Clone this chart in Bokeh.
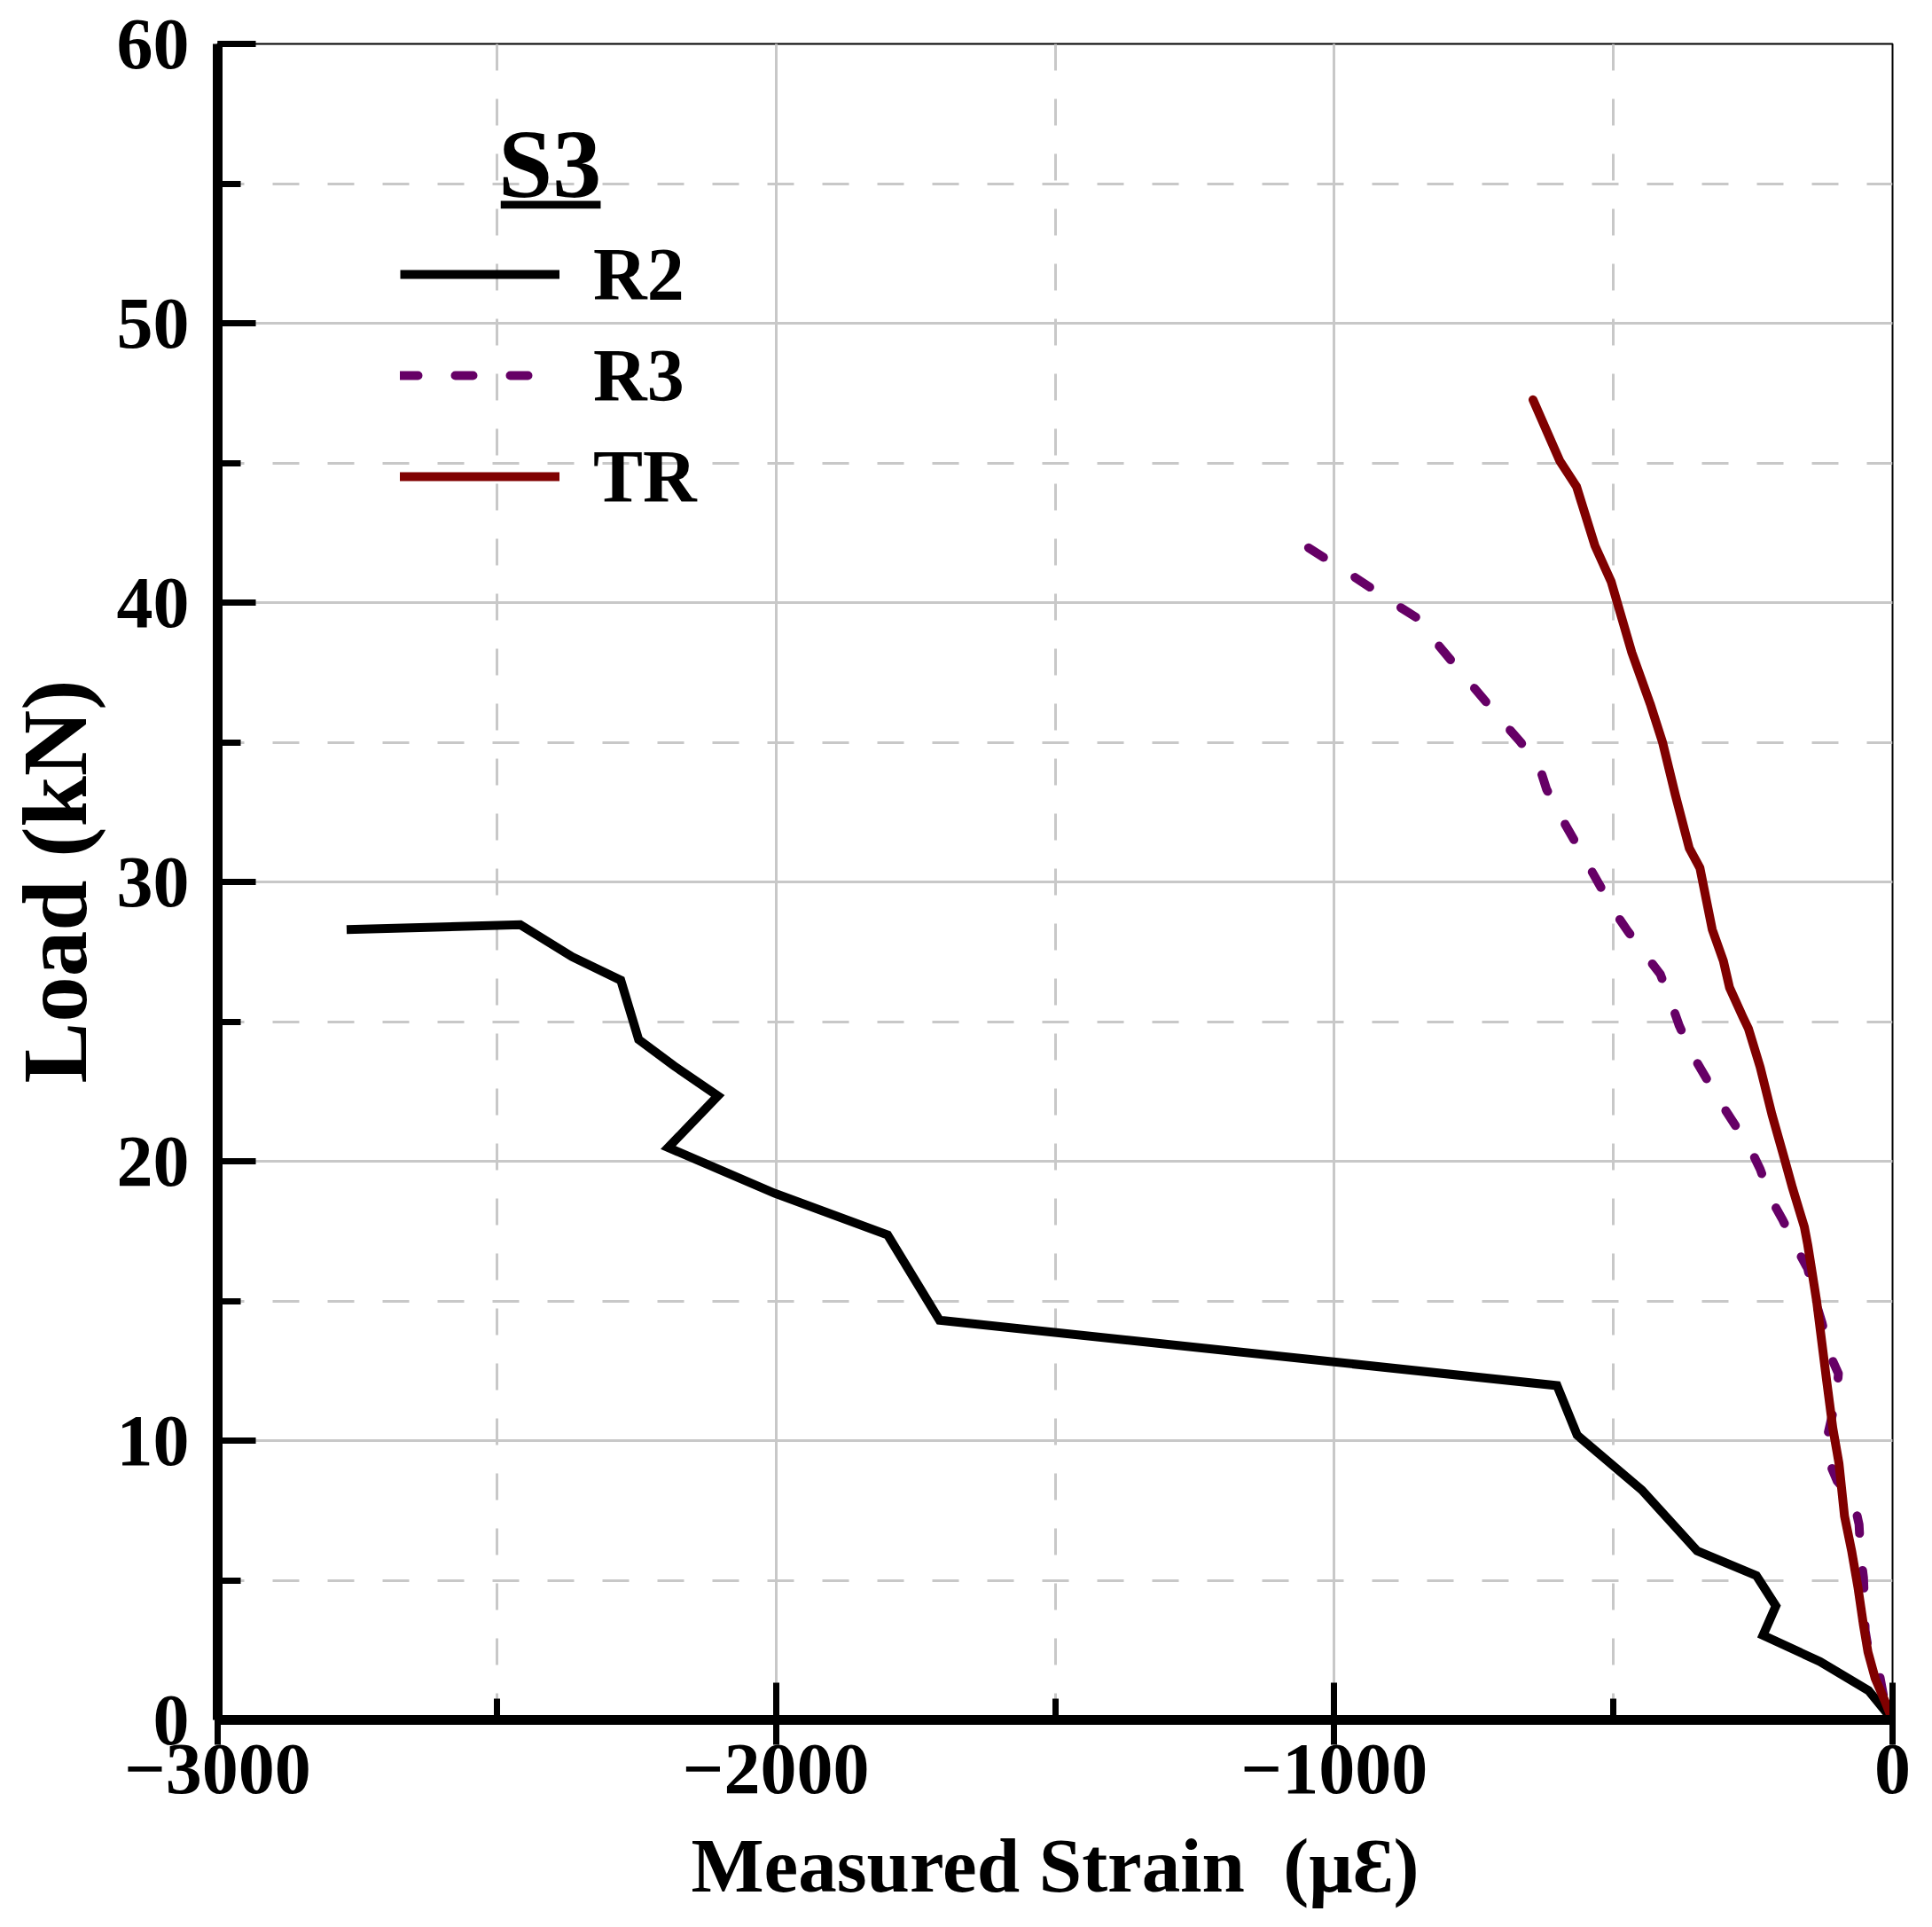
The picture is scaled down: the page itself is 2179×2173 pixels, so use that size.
from bokeh.plotting import figure
from bokeh.models import (Range1d, SingleIntervalTicker, Legend, LegendItem,
                          Label, BoxAnnotation, Div)
from bokeh.layouts import row
from bokeh.embed import file_html
from bokeh.resources import INLINE

# ---------------- data ----------------
r2_strain = [-2769, -2458, -2365, -2278, -2246, -2183, -2104, -2193, -2002, -1800,
             -1707, -601, -565, -449, -350, -244, -209, -232, -130, -43, 0]
r2_load = [28.29, 28.47, 27.32, 26.48, 24.36, 23.42, 22.34, 20.49, 18.85, 17.36,
           14.31, 11.97, 10.20, 8.23, 6.05, 5.17, 4.08, 3.03, 2.09, 1.05, 0]

r3_strain = [-1046, -968, -887, -854, -817, -755, -692, -666, -631, -620, -592,
             -544, -496, -474, -437, -416, -395, -382, -356, -308, -255, -237,
             -218, -197, -171, -152, -139, -126, -115, -97, -100, -115, -115,
             -99, -70, -60, -57, -52, -50, -49, -44, -25, -15, 0]
r3_load = [41.96, 40.97, 39.90, 39.48, 38.56, 37.08, 35.59, 35.00, 34.03, 33.33,
           32.26, 30.57, 28.87, 28.23, 27.24, 26.70, 25.59, 24.85, 23.73, 22.10,
           20.46, 19.71, 18.66, 17.91, 16.85, 16.16, 15.05, 14.20, 13.20, 12.40,
           11.60, 10.30, 9.30, 8.55, 7.90, 7.00, 5.90, 5.10, 4.00, 3.20, 2.60,
           1.80, 0.74, 0]

tr_strain = [-644, -596, -566, -533, -504, -467, -434, -412, -389, -364, -345,
             -323, -303, -292, -268, -258, -237, -216, -195, -179, -158, -152,
             -136, -126, -118, -107, -96, -86, -73, -62, -52, -44, -31, -15, 0]
tr_load = [47.26, 45.07, 44.15, 42.03, 40.75, 38.21, 36.37, 35.00, 33.11, 31.20,
           30.50, 28.30, 27.17, 26.22, 25.16, 24.74, 23.36, 21.67, 20.19, 19.03,
           17.65, 17.02, 15.00, 13.41, 12.14, 10.45, 9.19, 7.29, 6.02, 4.75,
           3.38, 2.43, 1.48, 0.74, 0]

series_names = ["R2", "R3", "TR"]
series_colors = ["#000000", "#660066", "#800000"]
legend_title = "S3"

x_ticks = [-3000, -2000, -1000, 0]
x_tick_labels = ["\u22123000", "\u22122000", "\u22121000", "0"]
x_title = "Measured Strain \u00a0(\u03bc\u0190)"
y_title = "Load (kN)"

FONT = "Liberation Serif"
GRID = "#c8c8c8"

TITLE_W = 128
FIG_W, FIG_H = 2045, 2155

p = figure(width=FIG_W, height=FIG_H, output_backend="svg", toolbar_location=None,
           x_range=Range1d(-3000, 0), y_range=Range1d(0, 60),
           min_border_left=114, min_border_right=39,
           min_border_top=49, min_border_bottom=216,
           background_fill_color="white", border_fill_color="white")

p.outline_line_color = "black"
p.outline_line_width = 2

# tickers
p.xaxis[0].ticker = SingleIntervalTicker(interval=1000, num_minor_ticks=2)
p.yaxis[0].ticker = SingleIntervalTicker(interval=10, num_minor_ticks=2)

# grids
for g in (p.xgrid[0], p.ygrid[0]):
    g.grid_line_color = GRID
    g.grid_line_width = 3
    g.minor_grid_line_color = GRID
    g.minor_grid_line_width = 3
    g.minor_grid_line_dash = "30 32"

# axes
for ax in (p.xaxis[0], p.yaxis[0]):
    ax.axis_line_width = 11
    ax.axis_line_color = "black"
    ax.major_tick_line_color = "black"
    ax.major_tick_line_width = 7
    ax.minor_tick_line_color = "black"
    ax.minor_tick_line_width = 7
    ax.major_label_text_font = FONT
    ax.major_label_text_font_style = "bold"
    ax.major_label_text_font_size = "82px"
    ax.major_label_text_color = "black"
    ax.axis_label_text_font = FONT
    ax.axis_label_text_font_style = "bold"
    ax.axis_label_text_color = "black"

xa = p.xaxis[0]
xa.major_tick_in = 42
xa.major_tick_out = 28
xa.minor_tick_in = 24
xa.minor_tick_out = 0
xa.major_label_standoff = 0
xa.major_label_overrides = {t: lab for t, lab in zip(x_ticks, x_tick_labels)}
xa.axis_label = x_title
xa.axis_label_text_font_size = "87px"
xa.axis_label_standoff = 30

ya = p.yaxis[0]
ya.major_tick_in = 43
ya.major_tick_out = 0
ya.minor_tick_in = 26
ya.minor_tick_out = 0
ya.major_label_standoff = 32

# data lines
r_r2 = p.line(r2_strain, r2_load, line_color=series_colors[0], line_width=10,
              line_join="miter")
r_r3 = p.line(r3_strain, r3_load, line_color=series_colors[1], line_width=10,
              line_dash="20 42", line_cap="round", line_join="round")
r_tr = p.line(tr_strain, tr_load, line_color=series_colors[2], line_width=10,
              line_join="round", line_cap="round")

legend = Legend(items=[LegendItem(label=series_names[0], renderers=[r_r2]),
                       LegendItem(label=series_names[1], renderers=[r_r3]),
                       LegendItem(label=series_names[2], renderers=[r_tr])],
                location=(206, 1345), orientation="vertical",
                glyph_width=180, glyph_height=114, label_height=114,
                spacing=0, padding=0, margin=0, label_standoff=38,
                border_line_alpha=0, background_fill_alpha=0,
                label_text_font=FONT, label_text_font_style="bold",
                label_text_font_size="84px", label_text_color="black")
p.add_layout(legend)

# legend title "S3" with underline
p.add_layout(Label(x=-2405, y=55.71, text=legend_title, text_align="center",
                   text_baseline="alphabetic", text_font=FONT,
                   text_font_style="bold", text_font_size="110px",
                   text_color="black"))
p.add_layout(BoxAnnotation(left=-2493, right=-2314, top=54.38, bottom=54.10,
                           fill_color="black", fill_alpha=1, line_alpha=0))

# vertical y-axis title (HTML text rotated with CSS)
y_title_html = (
    f'<div style="position:relative;width:{TITLE_W}px;height:{FIG_H}px;">'
    f'<div style="position:absolute;left:62px;top:994px;'
    f'transform:translate(-50%,-50%) rotate(-90deg);white-space:nowrap;'
    f'font-family:\'Liberation Serif\';font-weight:bold;font-size:103px;'
    f'line-height:1;color:black;">{y_title}</div></div>'
)
ytitle_div = Div(text=y_title_html, width=TITLE_W, height=FIG_H, margin=0)

layout = row(ytitle_div, p, spacing=0)

open("out.html", "w").write(file_html(layout, INLINE))
